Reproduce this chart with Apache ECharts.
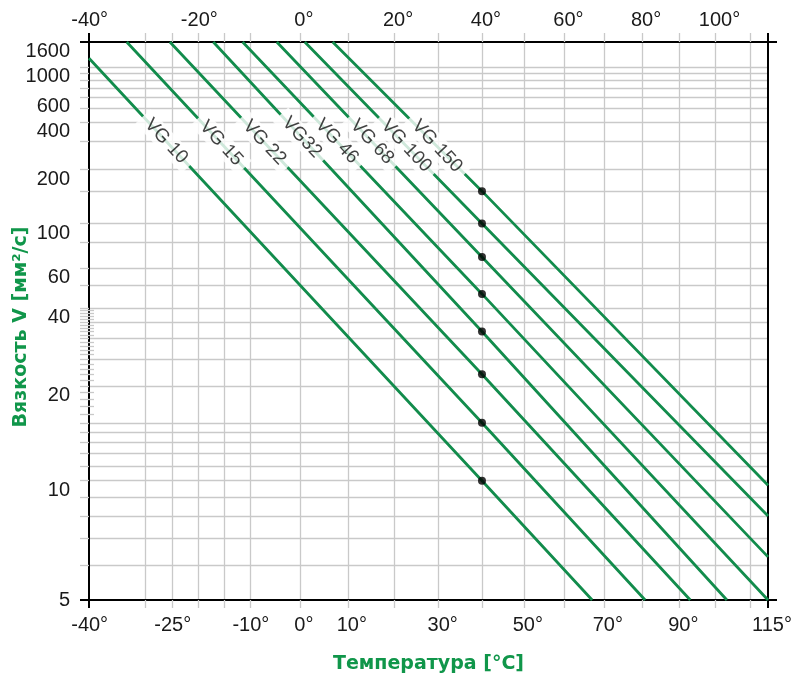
<!DOCTYPE html>
<html><head><meta charset="utf-8">
<script src="https://cdn.jsdelivr.net/npm/echarts@6/dist/echarts.min.js"></script>
<style>html,body{margin:0;padding:0;background:#fff}#c{width:803px;height:676px}</style>
</head><body><div id="c"></div>
<script>
// ---- data ----
const grades = ['VG 10','VG 15','VG 22','VG32','VG 46','VG 68','VG 100','VG 150'];
const gradeVisc40 = [10, 15, 22, 32, 46, 68, 100, 150];
const refTemp = 40;
const startTemp = [-40, -33.3, -25.4, -17.2, -11.5, -4.7, 1.0, 6.8];
const startVisc = [1180, 1600, 1600, 1600, 1600, 1600, 1600, 1600];
const endTemp = [67.0, 80.8, 93.0, 103.2, 115, 115, 115, 115];
const endVisc = [5, 5, 5, 5, 5, 6.3, 8.0, 9.7];
const topTempLabels = [-40, -20, 0, 20, 40, 60, 80, 100];
const bottomTempLabels = [-40, -25, -10, 0, 10, 30, 50, 70, 90, 115];
const tempGrid = [-30, -25, -20, -15, -10, 0, 10, 20, 30, 40, 50, 60, 70, 80, 90, 100, 110];
const viscLabels = [5, 10, 20, 40, 60, 100, 200, 400, 600, 1000, 1600];
const viscGrid = [6, 7, 8, 9, 10, 11, 12, 13, 14, 15, 20, 25, 30, 35, 40, 50, 60, 80, 100, 150, 200, 300, 400, 500, 600, 700, 800, 900, 1000];
const viscMinor = [16, 17, 18, 19, 21, 22, 23, 24, 26, 27, 28, 29, 31, 32, 33, 34, 36, 37, 38, 39];
const tempMin = -40, tempMax = 115, viscMin = 5, viscMax = 1600;

// ---- layout config (label anchor temperatures along each line) ----
const labelAtTemp = [-26.1, -15.7, -7.2, 0.4, 7.7, 15.2, 22.7, 29.6];

// ---- scales (log absolute temperature, ASTM log-log viscosity) ----
const tx = t => Math.log10(t + 273.15);
const ty = v => Math.log10(Math.log10(v + 0.7));
const XMIN = tx(tempMin), XMAX = tx(tempMax), YMIN = ty(viscMin), YMAX = ty(viscMax);

const GREEN_LINE = '#128c4c', GREEN_TEXT = '#10964a', GRID = '#c9c9c9';
const FONT = 'Liberation Sans';
const FS = 20;

function tempLabel(u) {
  const t = Math.round(Math.pow(10, u) - 273.15);
  const s = Math.abs(t) + '°';
  return t < 0 ? '{g|°}-' + s + '{g|-}' : '{g|°}' + s;
}
function viscLabel(w) {
  return String(Math.round(Math.pow(10, Math.pow(10, w)) - 0.7));
}
const richHidden = { g: { color: 'rgba(0,0,0,0)', fontSize: FS, fontFamily: FONT } };

const lineSeries = grades.map((g, i) => ({
  type: 'line', name: g, xAxisIndex: 0, yAxisIndex: 0,
  symbol: 'none', silent: true, z: 3,
  lineStyle: { color: GREEN_LINE, width: 2.8 },
  data: [
    [tx(startTemp[i]), ty(startVisc[i])],
    [tx(refTemp), ty(gradeVisc40[i])],
    [tx(endTemp[i]), ty(endVisc[i])]
  ]
}));

const labelData = grades.map((g, i) => {
  const u0 = tx(startTemp[i]), w0 = ty(startVisc[i]);
  const u1 = tx(refTemp), w1 = ty(gradeVisc40[i]);
  const u = tx(labelAtTemp[i]);
  const w = w0 + (u - u0) / (u1 - u0) * (w1 - w0);
  return { name: g, value: [u, w] };
});

const xCommon = { type: 'value', min: XMIN, max: XMAX, gridIndex: 0 };
const yCommon = { type: 'value', min: YMIN, max: YMAX, gridIndex: 0 };
const gridTick = { show: true, length: 8, lineStyle: { color: GRID, width: 1.3 } };
const blackTick = (len) => ({ show: true, length: len, lineStyle: { color: '#000', width: 2 } });
const titleStyle = { color: GREEN_TEXT, fontSize: 19, fontWeight: 'bold', fontFamily: 'DejaVu Sans' };

const option = {
  animation: false,
  backgroundColor: '#fff',
  grid: { left: 89, right: 35, top: 42, bottom: 76, containLabel: false, outerBoundsMode: 'none' },
  xAxis: [
    Object.assign({}, xCommon, {
      position: 'bottom',
      axisLine: { show: true, onZero: false, lineStyle: { color: '#000', width: 2 } },
      axisTick: Object.assign({}, gridTick, { customValues: tempGrid.map(tx) }),
      splitLine: { show: true, lineStyle: { color: GRID, width: 1.3 } },
      axisLabel: { show: true, customValues: bottomTempLabels.map(tx), formatter: tempLabel, rich: richHidden,
                   margin: 15, fontSize: FS, color: '#1a1a1a', fontFamily: FONT },
      name: 'Температура [°C]', nameLocation: 'middle', nameGap: 55, nameMoveOverlap: false,
      nameTextStyle: titleStyle
    }),
    Object.assign({}, xCommon, {
      position: 'top',
      axisLine: { show: true, onZero: false, lineStyle: { color: '#000', width: 2 } },
      axisTick: Object.assign({}, gridTick, { length: 9, customValues: tempGrid.map(tx) }),
      splitLine: { show: false },
      axisLabel: { show: true, customValues: topTempLabels.map(tx), formatter: tempLabel, rich: richHidden,
                   margin: 12, fontSize: FS, color: '#1a1a1a', fontFamily: FONT }
    }),
    Object.assign({}, xCommon, {
      position: 'bottom', axisLine: { show: false, onZero: false },
      axisTick: Object.assign(blackTick(8), { customValues: [XMIN, XMAX] }),
      axisLabel: { show: false }, splitLine: { show: false }
    }),
    Object.assign({}, xCommon, {
      position: 'top', axisLine: { show: false, onZero: false },
      axisTick: Object.assign(blackTick(9), { customValues: [XMIN, XMAX] }),
      axisLabel: { show: false }, splitLine: { show: false }
    })
  ],
  yAxis: [
    Object.assign({}, yCommon, {
      position: 'left',
      axisLine: { show: true, onZero: false, lineStyle: { color: '#000', width: 2 } },
      axisTick: Object.assign({}, gridTick, { length: 9, customValues: viscGrid.map(ty) }),
      splitLine: { show: true, lineStyle: { color: GRID, width: 1.3 } },
      axisLabel: { show: true, customValues: viscLabels.filter(v => v !== viscMin).map(ty), formatter: viscLabel,
                   verticalAlign: 'top', lineHeight: 19, margin: 19, fontSize: FS, color: '#1a1a1a', fontFamily: FONT },
      name: 'Вязкость V [мм²/с]', nameLocation: 'middle', nameGap: 58, nameRotate: 90, nameMoveOverlap: false,
      nameTextStyle: Object.assign({ padding: [0, 12, 0, 0] }, titleStyle)
    }),
    Object.assign({}, yCommon, {
      position: 'left', axisLine: { show: false, onZero: false },
      axisTick: Object.assign({}, gridTick, { length: 9, customValues: viscMinor.map(ty) }),
      splitLine: { show: false },
      axisLabel: { show: true, customValues: [ty(viscMin)], formatter: viscLabel,
                   margin: 19, fontSize: FS, color: '#1a1a1a', fontFamily: FONT }
    }),
    Object.assign({}, yCommon, {
      position: 'left', axisLine: { show: false, onZero: false },
      axisTick: Object.assign({}, gridTick, { inside: true, length: 5, customValues: viscMinor.map(ty) }),
      splitLine: { show: false }, axisLabel: { show: false }
    }),
    Object.assign({}, yCommon, {
      position: 'left', axisLine: { show: false, onZero: false },
      axisTick: Object.assign(blackTick(9), { customValues: [YMIN, YMAX] }),
      splitLine: { show: false }, axisLabel: { show: false }
    }),
    Object.assign({}, yCommon, {
      position: 'right',
      axisLine: { show: true, onZero: false, lineStyle: { color: '#000', width: 2 } },
      axisTick: Object.assign(blackTick(9), { customValues: [YMIN, YMAX] }),
      splitLine: { show: false }, axisLabel: { show: false }
    })
  ],
  series: lineSeries.concat([
    {
      type: 'scatter', name: 'labels', xAxisIndex: 0, yAxisIndex: 0, z: 8, silent: true,
      symbolSize: 0, data: labelData,
      label: { show: true, position: 'inside', formatter: '{b}', rotate: -47,
               fontSize: 19, color: '#111', fontFamily: FONT,
               backgroundColor: '#fff', padding: [1, 7] }
    },
    {
      type: 'scatter', name: 'ref', xAxisIndex: 0, yAxisIndex: 0, z: 9, silent: true,
      symbolSize: 8, itemStyle: { color: '#000' },
      data: gradeVisc40.map(v => [tx(refTemp), ty(v)])
    }
  ])
};

const chart = echarts.init(document.getElementById('c'), null, { renderer: 'canvas' });
chart.setOption(option);
</script>
</body></html>
